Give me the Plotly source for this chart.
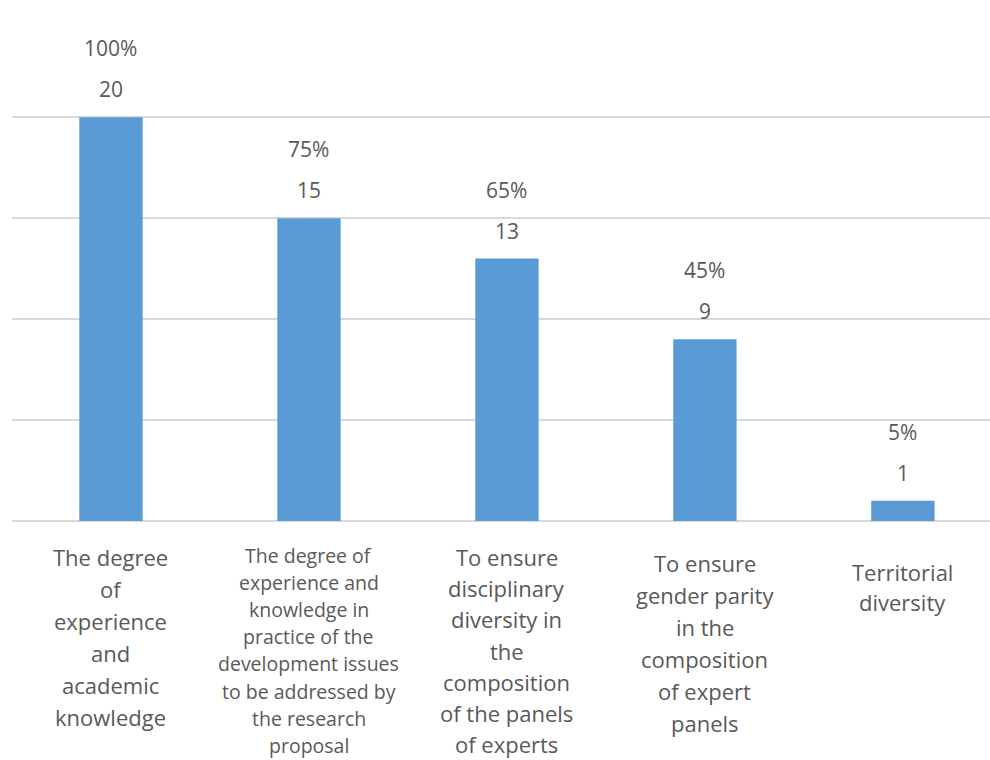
import plotly.graph_objects as go

# Survey: criteria used when forming expert evaluation panels (n = 20)
categories = [
    ["The degree", "of", "experience", "and", "academic", "knowledge"],
    ["The degree of", "experience and", "knowledge in", "practice of the",
     "development issues", "to be addressed by", "the research", "proposal"],
    ["To ensure", "disciplinary", "diversity in", "the", "composition",
     "of the panels", "of experts"],
    ["To ensure", "gender parity", "in the", "composition", "of expert", "panels"],
    ["Territorial", "diversity"],
]
counts = [20, 15, 13, 9, 1]
percents = [100, 75, 65, 45, 5]

# label styling per category: (offset of first line below baseline, line step, font size)
label_style = [(36, 32, 22), (34, 27.2, 19.5), (36, 31.2, 22), (42, 32, 22), (51, 30, 22)]

FONT = "Open Sans"
TEXT_COLOR = "#595959"
BAR_COLOR = "#5b9bd5"
GRID_COLOR = "#d9d9d9"

x_idx = list(range(len(counts)))

fig = go.Figure(
    go.Bar(
        x=x_idx,
        y=counts,
        width=0.32,
        marker=dict(color=BAR_COLOR, line=dict(width=0)),
        hoverinfo="skip",
    )
)

annotations = []
for i, (v, p) in enumerate(zip(counts, percents)):
    annotations.append(dict(
        x=i, y=v, xref="x", yref="y", text=str(v), showarrow=False,
        yanchor="middle", yshift=28, font=dict(family=FONT, size=21, color=TEXT_COLOR),
    ))
    annotations.append(dict(
        x=i, y=v, xref="x", yref="y", text=f"{p}%", showarrow=False,
        yanchor="middle", yshift=69, font=dict(family=FONT, size=21, color=TEXT_COLOR),
    ))

for i, lines in enumerate(categories):
    off, step, size = label_style[i]
    for j, line in enumerate(lines):
        annotations.append(dict(
            x=i, y=0, xref="x", yref="paper", text=line, showarrow=False,
            xanchor="center", yanchor="middle", yshift=-(off + j * step),
            font=dict(family=FONT, size=size, color=TEXT_COLOR),
        ))

fig.update_layout(
    width=990,
    height=760,
    margin=dict(l=12, r=0, t=16, b=239),
    paper_bgcolor="white",
    plot_bgcolor="white",
    showlegend=False,
    annotations=annotations,
    xaxis=dict(
        range=[-0.5, 4.44], showticklabels=False, showgrid=False,
        zeroline=False, showline=False, fixedrange=True,
    ),
    yaxis=dict(
        range=[0, 25.02], dtick=5, tick0=0, showticklabels=False,
        showgrid=True, gridcolor=GRID_COLOR, gridwidth=2,
        zeroline=True, zerolinecolor=GRID_COLOR, zerolinewidth=2,
        showline=False, fixedrange=True,
    ),
)

fig.write_html("out.html")
